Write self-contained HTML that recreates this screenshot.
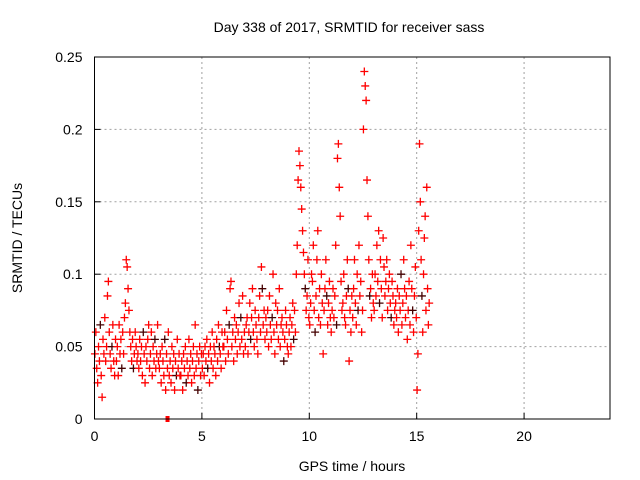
<!DOCTYPE html>
<html><head><meta charset="utf-8"><style>
body{margin:0;background:#fff;}
svg{display:block;font-family:"Liberation Sans",sans-serif;}
</style></head><body>
<svg id="chart" width="640" height="480" viewBox="0 0 640 480">
<text x="349" y="32" font-size="14" text-anchor="middle">Day 338 of 2017, SRMTID for receiver sass</text>
<text transform="translate(22,238) rotate(-90)" font-size="14" text-anchor="middle">SRMTID / TECUs</text>
<text x="352" y="471" font-size="14" text-anchor="middle">GPS time / hours</text>
<g id="grid"></g><g id="ticks"></g><g id="marks"></g>
<rect x="94.5" y="57" width="515.5" height="362" fill="none" stroke="#000" stroke-width="1"/>
</svg>
<script>
const xTicks=[0,5,10,15,20];
const yTicks=[0,0.05,0.1,0.15,0.2,0.25];
const yTickLabels=["0","0.05","0.1","0.15","0.2","0.25"];
const hourStarts=[0,1,2,3,4,5,6,7,8,9,10,11,12,13,14,15];
const hourSpans=[1,1,1,1,1,1,1,1,1,1,1,1,1,1,1,0.6];
const h0=[.045,.06,.035,.025,.05,.04,.065,.03,.015,.055,.045,.07,.04,.05,.085,.095,.06,.045,.035,.05,.065,.04,.03,.055];
const h1=[.04,.05,.03,.065,.045,.055,.035,.06,.045,.07,.08,.11,.105,.09,.075,.06,.05,.04,.055,.035,.045,.06,.05,.04];
const h2=[.045,.035,.055,.04,.05,.03,.06,.045,.025,.05,.04,.055,.065,.035,.045,.06,.03,.05,.04,.055,.035,.045,.065,.04];
const h3=[.035,.045,.025,.05,.04,.03,.055,.02,.045,.035,.06,.03,.04,.025,.05,.035,.045,.02,.04,.03,.055,.035,.045,.03];
const h4=[.03,.04,.02,.045,.035,.05,.025,.04,.03,.055,.035,.045,.025,.04,.05,.03,.065,.035,.045,.02,.04,.05,.03,.045];
const h5=[.035,.045,.03,.05,.04,.055,.035,.045,.025,.05,.04,.06,.035,.05,.045,.03,.055,.04,.065,.05,.045,.035,.06,.05];
const h6=[.05,.06,.04,.075,.055,.045,.065,.09,.095,.05,.06,.04,.07,.055,.065,.045,.06,.08,.05,.07,.055,.085,.045,.06];
const h7=[.05,.065,.07,.045,.06,.08,.055,.07,.09,.06,.05,.075,.065,.055,.045,.07,.085,.06,.105,.09,.065,.075,.055,.07];
const h8=[.06,.075,.05,.085,.065,.055,.07,.1,.06,.045,.08,.065,.075,.055,.09,.05,.065,.07,.06,.04,.055,.075,.065,.05];
const h9=[.045,.06,.07,.05,.065,.08,.055,.075,.06,.1,.12,.165,.185,.175,.16,.145,.13,.115,.1,.09,.075,.085,.11,.07];
const h10=[.065,.08,.1,.095,.12,.075,.06,.085,.11,.13,.07,.09,.065,.1,.08,.045,.075,.09,.11,.085,.065,.08,.095,.07];
const h11=[.06,.075,.09,.07,.085,.12,.065,.18,.19,.16,.14,.095,.075,.08,.1,.07,.065,.085,.11,.09,.04,.075,.06,.085];
const h12=[.07,.09,.11,.08,.065,.1,.075,.12,.085,.095,.06,.075,.2,.24,.23,.22,.165,.14,.11,.085,.09,.07,.1,.08];
const h13=[.075,.1,.085,.12,.095,.13,.08,.11,.09,.07,.125,.105,.085,.095,.11,.075,.09,.1,.08,.07,.095,.085,.065,.075];
const h14=[.08,.07,.09,.06,.085,.075,.1,.065,.08,.11,.09,.07,.085,.055,.075,.095,.065,.12,.09,.075,.06,.085,.105,.07];
const h15=[.02,.045,.13,.19,.15,.11,.085,.06,.1,.125,.14,.075,.16,.09,.065,.08];
const hours=[h0,h1,h2,h3,h4,h5,h6,h7,h8,h9,h10,h11,h12,h13,h14,h15];
const squareT=[3.4], squareV=[0];

const NS="http://www.w3.org/2000/svg";
const X0=94.5,X1=610,Y0=419,Y1=57;
const xs=t=>X0+t/24*(X1-X0);
const ys=v=>Y0-v/0.25*(Y0-Y1);
function mk(tag,attrs,parent){const e=document.createElementNS(NS,tag);for(const k in attrs)e.setAttribute(k,attrs[k]);parent.appendChild(e);return e;}
const grid=document.getElementById('grid'),ticks=document.getElementById('ticks'),marks=document.getElementById('marks');
xTicks.forEach(t=>{
  const x=xs(t);
  if(t>0){const g=mk('line',{x1:x,x2:x,y1:Y1,y2:Y0,stroke:'#a0a0a0','stroke-dasharray':'2,3'},grid);
  
  }
  const l=mk('line',{x1:x,x2:x,y1:Y0,y2:Y0-6,stroke:'#000'},ticks);
  
  
  const tx=mk('text',{x:x,y:Y0+22,'font-size':14,'text-anchor':'middle'},ticks);tx.textContent=t;
  
  
});
yTicks.forEach((v,i)=>{
  const y=ys(v);
  if(v>0&&v<0.25){const g=mk('line',{x1:X0,x2:X1,y1:y,y2:y,stroke:'#a0a0a0','stroke-dasharray':'2,3'},grid);
  
  }
  const l=mk('line',{x1:X0,x2:X0+6,y1:y,y2:y,stroke:'#000'},ticks);
  
  
  const tx=mk('text',{x:X0-12,y:y+5,'font-size':14,'text-anchor':'end'},ticks);tx.textContent=yTickLabels[i];
  
  
});
hours.forEach((arr,hi)=>{
  arr.forEach((v,i)=>{
    const t=hourStarts[hi]+(i+0.5)/arr.length*hourSpans[hi];
    const x=xs(t),y=ys(v);
    const p=mk('path',{d:`M${x-4},${y}H${x+4}M${x},${y-4}V${y+4}`,stroke:(i%13==6)?'#400':'#f00','stroke-width':1.3,fill:'none'},marks);
    
    
  });
});
squareT.forEach((t,i)=>{
  const r=mk('rect',{x:xs(t)-2,y:ys(squareV[i])-3,width:4,height:6,fill:'#f00'},marks);
  
  
});
</script>
</body></html>
